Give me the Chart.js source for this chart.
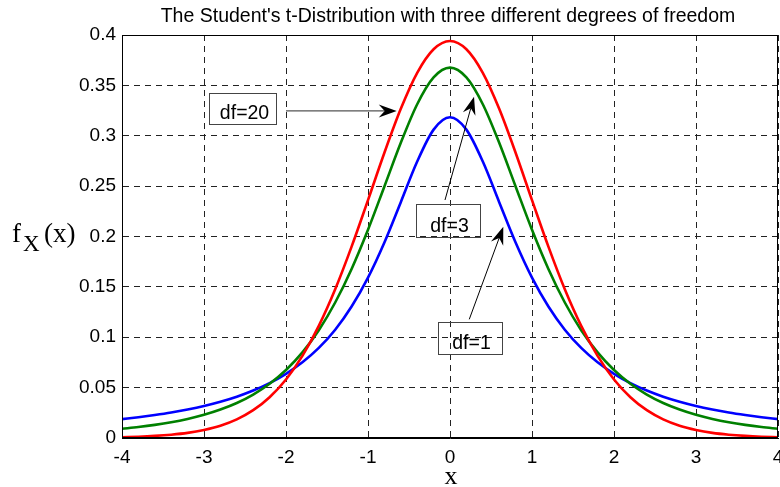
<!DOCTYPE html>
<html>
<head>
<meta charset="utf-8">
<script src="https://cdn.jsdelivr.net/npm/chart.js@4"></script>
<style>
html,body{margin:0;padding:0;background:#fff;}
</style>
</head>
<body>
<canvas id="chart" width="780" height="487"></canvas>
<script>
// Data
const xs = [-4,-3.8,-3.6,-3.4,-3.2,-3,-2.8,-2.6,-2.4,-2.2,-2,-1.8,-1.6,-1.4,-1.2,-1,-0.8,-0.6,-0.4,-0.2,0,
  0.2,0.4,0.6,0.8,1,1.2,1.4,1.6,1.8,2,2.2,2.4,2.6,2.8,3,3.2,3.4,3.6,3.8,4];
const df1 = [0.0187,0.0206,0.0228,0.0253,0.0283,0.0318,0.0360,0.0410,0.0471,0.0545,0.0637,0.0751,0.0894,0.1075,0.1305,0.1592,0.1941,0.2341,0.2744,0.3061,0.3183,
  0.3061,0.2744,0.2341,0.1941,0.1592,0.1305,0.1075,0.0894,0.0751,0.0637,0.0545,0.0471,0.0410,0.0360,0.0318,0.0283,0.0253,0.0228,0.0206,0.0187];
const df3 = [0.0092,0.0109,0.0130,0.0156,0.0189,0.0230,0.0282,0.0347,0.0431,0.0538,0.0675,0.0850,0.1070,0.1345,0.1678,0.2067,0.2497,0.2930,0.3313,0.3579,0.3676,
  0.3579,0.3313,0.2930,0.2497,0.2067,0.1678,0.1345,0.1070,0.0850,0.0675,0.0538,0.0431,0.0347,0.0282,0.0230,0.0189,0.0156,0.0130,0.0109,0.0092];
const df20 = [0.0008,0.0013,0.0021,0.0033,0.0051,0.0080,0.0122,0.0185,0.0276,0.0405,0.0581,0.0815,0.1113,0.1476,0.1899,0.2361,0.2831,0.3267,0.3624,0.3858,0.3940,
  0.3858,0.3624,0.3267,0.2831,0.2361,0.1899,0.1476,0.1113,0.0815,0.0581,0.0405,0.0276,0.0185,0.0122,0.0080,0.0051,0.0033,0.0021,0.0013,0.0008];
const seriesNames = ["df=20","df=3","df=1"];

// text boxes with arrows (data coordinates)
const notes = [
  {text:"df=20", box:[-2.94,0.3424,-2.12,0.3117], from:[-2.0,0.3246], to:[-0.65,0.3246], line:"#555", lw:1.3},
  {text:"df=3", box:[-0.418,0.2323,0.357,0.2], from:[-0.061,0.2362], to:[0.293,0.3388], line:"#000", lw:1},
  {text:"df=1", box:[-0.15,0.1148,0.626,0.0834], from:[0.235,0.1178], to:[0.65,0.2097], line:"#000", lw:1}
];

const SANS = "'Liberation Sans', Arial, Helvetica, sans-serif";
const SERIF = "'Liberation Serif', 'Times New Roman', serif";

function pts(ys){ return xs.map((x,i)=>({x:x,y:ys[i]})); }

function arrowHead(ctx,x1,y1,x2,y2){
  const ang=Math.atan2(y2-y1,x2-x1), L=18, W=6.5, N=12;
  ctx.save(); ctx.translate(x2,y2); ctx.rotate(ang);
  ctx.beginPath(); ctx.moveTo(0,0); ctx.lineTo(-L,W); ctx.lineTo(-N,0); ctx.lineTo(-L,-W); ctx.closePath();
  ctx.fillStyle="#000"; ctx.fill(); ctx.restore();
}

const extras = {
  id:"extras",
  afterDatasetsDraw(chart){
    const ctx=chart.ctx, a=chart.chartArea, sx=chart.scales.x, sy=chart.scales.y;
    ctx.save();
    ctx.setLineDash([]);
    // axes box
    ctx.strokeStyle="#000"; ctx.lineWidth=1;
    ctx.strokeRect(a.left+0.5,a.top+0.5,a.right-a.left-1,a.bottom-a.top-1);
    // notes
    notes.forEach(n=>{
      const bx1=sx.getPixelForValue(n.box[0]), by1=sy.getPixelForValue(n.box[1]);
      const bx2=sx.getPixelForValue(n.box[2]), by2=sy.getPixelForValue(n.box[3]);
      ctx.strokeStyle="#444"; ctx.lineWidth=1;
      ctx.strokeRect(Math.round(bx1)+0.5,Math.round(by1)+0.5,Math.round(bx2-bx1),Math.round(by2-by1));
      ctx.fillStyle="#000"; ctx.font="19.5px "+SANS; ctx.textAlign="center"; ctx.textBaseline="alphabetic";
      ctx.fillText(n.text,(bx1+bx2)/2+2,by2-5);
      const fx=sx.getPixelForValue(n.from[0]), fy=sy.getPixelForValue(n.from[1]);
      const tx=sx.getPixelForValue(n.to[0]), ty=sy.getPixelForValue(n.to[1]);
      const ang=Math.atan2(ty-fy,tx-fx);
      ctx.strokeStyle=n.line; ctx.lineWidth=n.lw;
      ctx.beginPath(); ctx.moveTo(fx,fy); ctx.lineTo(tx-12*Math.cos(ang),ty-12*Math.sin(ang)); ctx.stroke();
      arrowHead(ctx,fx,fy,tx,ty);
    });
    // title
    ctx.fillStyle="#000"; ctx.textAlign="center"; ctx.textBaseline="alphabetic";
    ctx.font="19.5px "+SANS;
    ctx.fillText("The Student's t-Distribution with three different degrees of freedom",(a.left+a.right)/2-2,22);
    // x label
    ctx.font="26px "+SERIF;
    ctx.fillText("x",(a.left+a.right)/2+1,484);
    // y label f_X(x)
    ctx.textAlign="left";
    ctx.font="27px "+SERIF; ctx.fillText("f",12,242);
    ctx.font="23px "+SERIF; ctx.fillText("X",23,251);
    ctx.font="27px "+SERIF; ctx.fillText("(x)",44,242);
    ctx.restore();
  }
};

new Chart(document.getElementById("chart"),{
  type:"line",
  data:{datasets:[
    {label:seriesNames[0],data:pts(df20),borderColor:"#ff0000"},
    {label:seriesNames[1],data:pts(df3),borderColor:"#008000"},
    {label:seriesNames[2],data:pts(df1),borderColor:"#0000ff"}
  ]},
  options:{
    responsive:false, animation:false, devicePixelRatio:1,
    layout:{padding:{top:35,right:2,left:0,bottom:0}},
    elements:{point:{radius:0},line:{borderWidth:2.6,cubicInterpolationMode:"monotone"}},
    plugins:{legend:{display:false},tooltip:{enabled:false},title:{display:false}},
    scales:{
      x:{type:"linear",min:-4,max:4,
        ticks:{stepSize:1,color:"#000",font:{family:SANS,size:19},padding:8,maxRotation:0},
        grid:{color:"#222",lineWidth:1,drawTicks:false},
        border:{display:true,color:"#000",width:1,dash:[6,5]},
        afterFit(s){ s.height=49; s.paddingLeft=0; s.paddingRight=0; }
      },
      y:{min:0,max:0.4,
        ticks:{stepSize:0.05,color:"#000",font:{family:SANS,size:19},padding:6,
          callback:v=>String(Math.round(v*100)/100)},
        grid:{color:"#222",lineWidth:1,drawTicks:false},
        border:{display:true,color:"#000",width:1,dash:[6,5]},
        afterFit(s){ s.width=122; s.paddingTop=0; s.paddingBottom=0; }
      }
    }
  },
  plugins:[extras]
});
</script>
</body>
</html>
